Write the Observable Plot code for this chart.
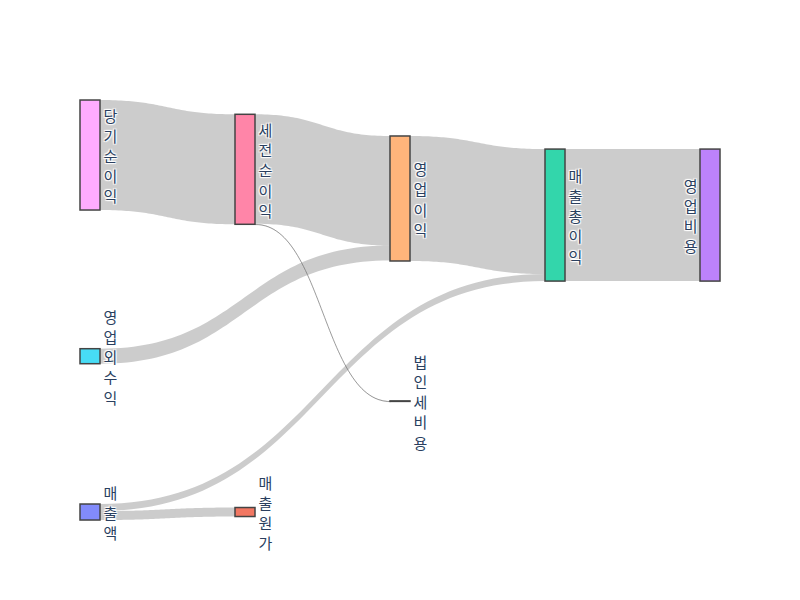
<!DOCTYPE html>
<html>
<head>
<meta charset="utf-8">
<script src="https://cdn.jsdelivr.net/npm/d3@7"></script>
<script src="https://cdn.jsdelivr.net/npm/@observablehq/plot@0.6"></script>
<style>
  html, body { margin: 0; padding: 0; background: #fff; }
  #chart g.lbl text {
    text-shadow: 1px 1px 1px #fff, -1px -1px 1px #fff, 1px -1px 1px #fff, -1px 1px 1px #fff;
  }
</style>
</head>
<body>
<div id="chart"></div>
<script>
// ---- data ----
const nodeLabels = ["매출액", "매출원가", "매출총이익", "영업비용", "영업이익", "영업외수익", "세전순이익", "법인세비용", "당기순이익"];
const nodeColors = ["#636efa", "#EF553B", "#00cc96", "#ab63fa", "#FFA15A", "#19d3f3", "#FF6692", "#B6E880", "#FF97FF"];
const nodeColumn = [0, 1, 3, 4, 2, 0, 1, 2, 0];
// node centre as a fraction of the plot height (0 = top), like Plotly's node.y
const nodeYCenter = [0.981, 0.981, 0.274, 0.274, 0.2345, 0.610, 0.165, 0.717, 0.131];

const linkSource = [8, 6, 6, 5, 4, 0, 0, 2];
const linkTarget = [6, 4, 7, 4, 2, 2, 1, 3];
const linkValue  = [110, 109.5, 0.5, 15, 125, 7, 9, 132];

// ---- layout (in value units) ----
const yExtent = 420;          // value units spanned by the plot height
const nodeW = 20 / 155;       // node width in column units
const nCols = d3.max(nodeColumn);

const nodes = nodeLabels.map((name, i) => ({name, i, col: nodeColumn[i], color: nodeColors[i], ins: [], outs: []}));
const links = linkSource.map((s, k) => ({k, source: nodes[s], target: nodes[linkTarget[k]], value: linkValue[k]}));
links.forEach(l => { l.source.outs.push(l); l.target.ins.push(l); });
nodes.forEach(n => {
  n.value = Math.max(d3.sum(n.ins, l => l.value), d3.sum(n.outs, l => l.value));
  const c = nodeYCenter[n.i] * yExtent;
  n.y0 = c - n.value / 2; n.y1 = c + n.value / 2;
  n.x0 = n.col; n.x1 = n.col + nodeW;
  n.yc = c;
});
nodes.forEach(n => {
  n.outs.sort((a, b) => a.target.yc - b.target.yc);
  let y = n.y0;
  n.outs.forEach(l => { l.sy0 = y; y += l.value; l.sy1 = y; });
  n.ins.sort((a, b) => a.source.yc - b.source.yc);
  y = n.y0;
  n.ins.forEach(l => { l.ty0 = y; y += l.value; l.ty1 = y; });
});

const bez = (p0, p1, p2, p3, t) => (1 - t) ** 3 * p0 + 3 * (1 - t) ** 2 * t * p1 + 3 * (1 - t) * t * t * p2 + t ** 3 * p3;
const T = d3.range(0, 61).map(i => i / 60);
const rows = [];
links.forEach(l => {
  const x0 = l.source.x1, x1 = l.target.x0, xm = (x0 + x1) / 2;
  T.forEach(t => rows.push({
    k: l.k, value: l.value,
    x: bez(x0, xm, xm, x1, t),
    ya: bez(l.sy0, l.sy0, l.ty0, l.ty0, t),
    yb: bez(l.sy1, l.sy1, l.ty1, l.ty1, t)
  }));
});
const thinRows = rows.filter(r => r.value < 1);

const font = '"Open Sans", "Noto Sans CJK KR", sans-serif';
const lbl = d => [...d.name].join("\n");

const chart = Plot.plot({
  width: 800, height: 600,
  marginTop: 100, marginBottom: 80, marginLeft: 80, marginRight: 80,
  style: {fontFamily: font, background: "#fff"},
  x: {domain: [0, nCols + nodeW], axis: null},
  y: {domain: [0, yExtent], range: [100, 520], axis: null},
  marks: [
    Plot.areaY(rows, {x: "x", y1: "ya", y2: "yb", z: "k", fill: "rgba(0,0,0,0.2)", curve: "linear"}),
    Plot.line(thinRows, {x: "x", y: d => (d.ya + d.yb) / 2, z: "k", stroke: "#777", strokeWidth: 0.7}),
    Plot.rect(nodes, {x1: "x0", x2: "x1", y1: "y0", y2: "y1", fill: "color", fillOpacity: 0.8, stroke: "#444", strokeWidth: 1.5}),
    Plot.text(nodes.filter(n => n.col < nCols), {x: "x1", y: "yc", text: lbl, textAnchor: "start", dx: 3,
      fill: "#2a3f5f", fontSize: 15, lineHeight: 1.35, className: "lbl"}),
    Plot.text(nodes.filter(n => n.col === nCols), {x: "x0", y: "yc", text: lbl, textAnchor: "end", dx: -3,
      fill: "#2a3f5f", fontSize: 15, lineHeight: 1.35, className: "lbl"})
  ]
});
document.getElementById("chart").appendChild(chart);
</script>
</body>
</html>
